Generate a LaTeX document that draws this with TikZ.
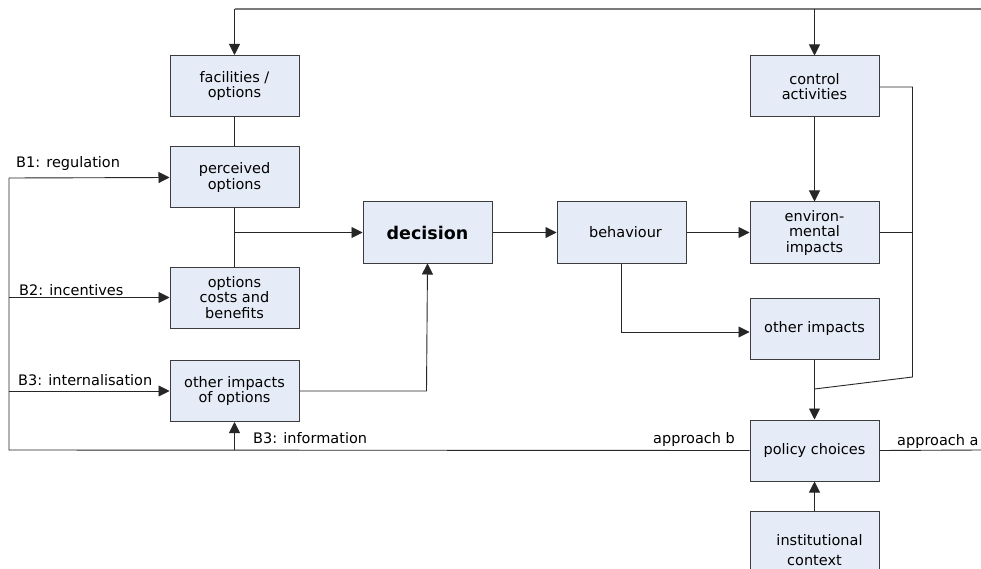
\documentclass[tikz,border=0pt]{standalone}
\usepackage{fontspec}
\setmainfont{DejaVu Sans}
\usetikzlibrary{arrows.meta,calc}
\definecolor{boxfill}{HTML}{E6ECF7}
\definecolor{boxline}{HTML}{3C3C3C}
\definecolor{topline}{HTML}{7A7A7A}
\tikzset{
  blk/.style={draw=boxline,fill=boxfill,line width=1pt,minimum width=129pt,minimum height=61pt,
    inner sep=2pt,align=center,font=\fontsize{14.5}{15.5}\selectfont},
  conn/.style={draw=black!85,line width=0.9pt},
  arr/.style={conn,-{Triangle[length=11pt,width=11pt]}},
  lbl/.style={anchor=base west,inner sep=0pt,font=\fontsize{14.5}{15.5}\selectfont}
}
\begin{document}
\begin{tikzpicture}[x=1pt,y=-1pt]
\clip (0,0) rectangle (981,569);
\fill[white] (0,0) rectangle (981,569);
% boxes
\node[blk] (fac) at (234.5,86) {facilities /\\options};
\node[blk] (perc) at (234.5,177.5) {perceived\\options};
\node[blk] (occ) at (234.5,297.5) {options\\costs and\\benefits};
\node[blk] (oio) at (234.5,391) {\raisebox{-5pt}{\parbox{125pt}{\centering other impacts\\of options}}};
\node[blk,font=\fontsize{17.5}{20}\selectfont\bfseries] (dec) at (427.5,232.5) {decision};
\node[blk] (beh) at (621.5,232.5) {\hspace{8pt}behaviour};
\node[blk] (ctrl) at (814.5,86.5) {control\\activities};
\node[blk] (env) at (814.5,232.5) {environ-\\mental\\impacts};
\node[blk] (oth) at (814.5,328.5) {other impacts};
\node[blk] (pol) at (814.5,450.5) {policy choices};
\node[blk,minimum height=78pt,font=\fontsize{14.5}{20}\selectfont] (inst) at (814.5,550) {\hspace{10pt}institutional\\context};
% coordinates
\coordinate (tl) at (234.5,9);
\coordinate (tc) at (814.5,9);
\coordinate (tr) at (981,9);
\coordinate (br1) at (234.5,232.5);
\coordinate (L1) at (9,178);
\coordinate (L2) at (9,297.5);
\coordinate (L3) at (9,391);
\coordinate (L4) at (9,450);
\coordinate (ib) at (234.5,450);
\coordinate (dj) at (426.5,391);
\coordinate (bj) at (621.5,332);
\coordinate (R1) at (912.5,87);
\coordinate (R2) at (912.5,232.5);
\coordinate (R3) at (912.5,377);
\coordinate (cj) at (814.5,389);
\coordinate (ae) at (981,450);
% top feedback line
\draw[draw=topline,line width=1.3pt] (tl) -- (tr);
\draw[arr] (tl) -- (fac.north);
\draw[arr] (tc) -- (ctrl.north);
% left column
\draw[conn] (fac.south) -- (perc.north);
\draw[conn] (perc.south) -- (occ.north);
\draw[arr] (br1) -- (dec.west);
% left bus
\draw[conn] (L1) -- (L4) -- (pol.west);
\draw[arr] (L1) -- (perc.west);
\draw[arr] (L2) -- (occ.west);
\draw[arr] (L3) -- (oio.west);
\draw[arr] (ib) -- (oio.south);
% to decision
\draw[arr] (oio.east) -- (dj) -- (dec.south);
\draw[arr] (dec.east) -- (beh.west);
\draw[arr] (beh.east) -- (env.west);
\draw[arr] (beh.south) -- (bj) -- (bj -| oth.west);
\draw[arr] (ctrl.south) -- (env.north);
% right loop
\draw[conn] (ctrl.east |- R1) -- (R1) -- (R3) -- (cj);
\draw[conn] (env.east) -- (R2);
\draw[arr] (oth.south) -- (pol.north);
\draw[arr] (inst.north) -- (pol.south);
\draw[conn] (pol.east) -- (ae);
% labels
\node[lbl] (lb1) at (16,168) {B1: regulation};
\node[lbl] (lb2) at (19,295) {B2: incentives};
\node[lbl] (lb3) at (18,385) {B3: internalisation};
\node[lbl] (lb4) at (253,443) {B3: information};
\node[lbl] (lb5) at (653,443) {approach b};
\node[lbl] (lb6) at (897,445) {approach a};
\end{tikzpicture}
\end{document}
